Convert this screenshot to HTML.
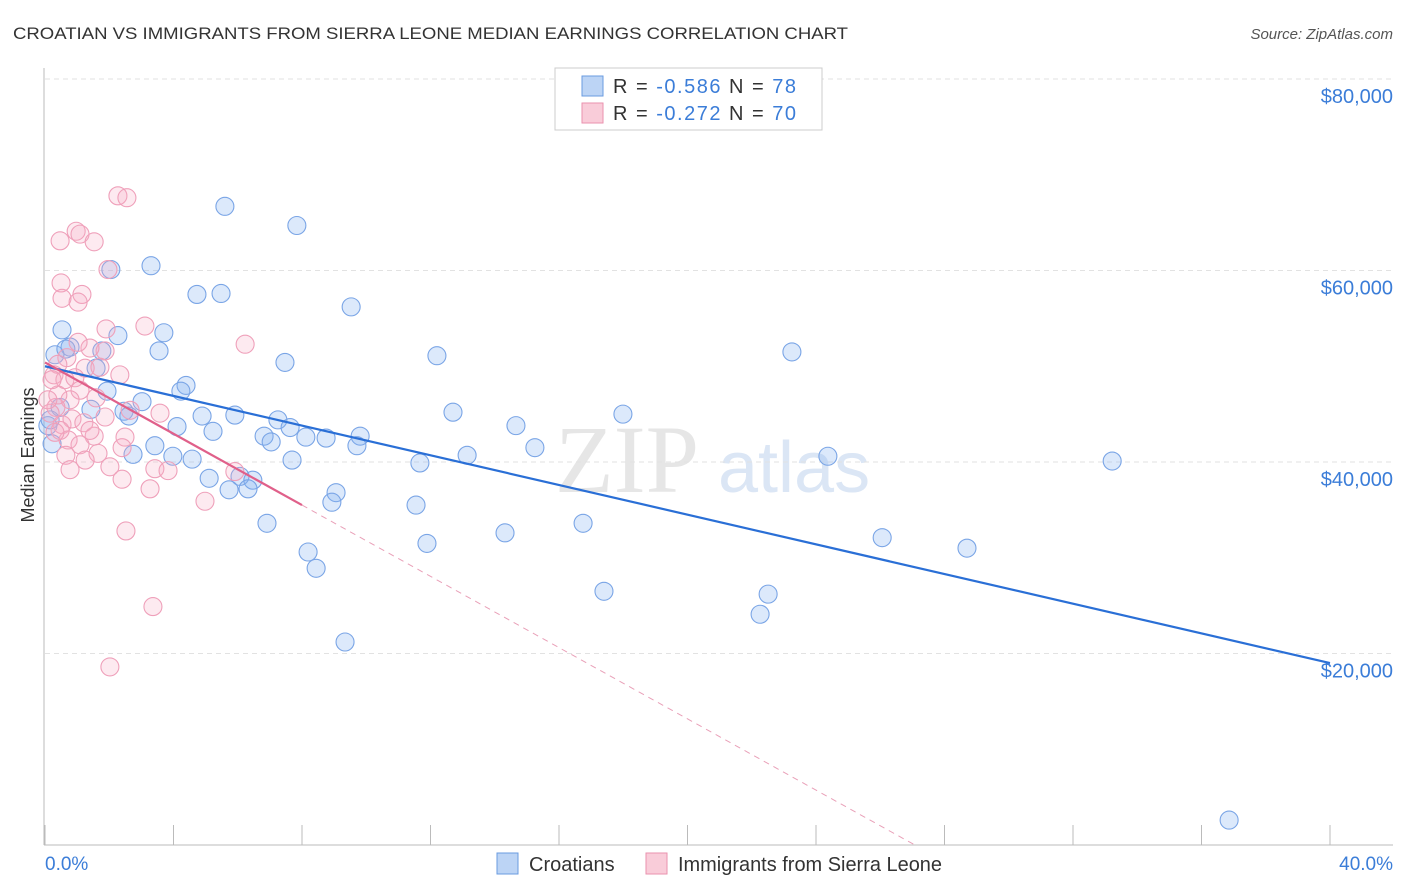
<!DOCTYPE html>
<html><head><meta charset="utf-8"><style>
body{margin:0;background:#fff;font-family:"Liberation Sans",sans-serif;}
svg{display:block}
</style></head><body>
<svg id="chart" width="1406" height="892" xmlns="http://www.w3.org/2000/svg" font-family="Liberation Sans, sans-serif">
<text x="13" y="39" font-size="17" fill="#333" textLength="835" lengthAdjust="spacingAndGlyphs">CROATIAN VS IMMIGRANTS FROM SIERRA LEONE MEDIAN EARNINGS CORRELATION CHART</text>
<text x="1393" y="39" font-size="15" fill="#555" font-style="italic" text-anchor="end">Source: ZipAtlas.com</text>
<g>
<text x="555" y="492" font-size="96" fill="#e6e6e6" font-family="Liberation Serif, serif">ZIP</text>
<text x="718" y="492" font-size="72" fill="#dbe6f5">atlas</text>
</g>
<g id="grid"></g>
<g id="ticks"></g>
<line x1="44" y1="68" x2="44" y2="845" stroke="#bbb"/>
<line x1="44" y1="845" x2="1393" y2="845" stroke="#bbb"/>
<g id="pts"></g>
<g id="lines"></g>
<text transform="translate(34,455) rotate(-90)" font-size="18" fill="#333" text-anchor="middle">Median Earnings</text>
<text x="45" y="870" font-size="19" fill="#3b7dd8">0.0%</text>
<text x="1393" y="870" font-size="19" fill="#3b7dd8" text-anchor="end">40.0%</text>
<g>
<rect x="555" y="68" width="267" height="62" fill="#fff" stroke="#ccc"/>
<rect x="582" y="76" width="21" height="20" fill="#bcd4f5" stroke="#6a9be0"/>
<rect x="582" y="103" width="21" height="20" fill="#f9ccd9" stroke="#ea92ae"/>
<text x="613" y="93" font-size="20" fill="#333" textLength="183" lengthAdjust="spacing">R = <tspan fill="#3b7dd8">-0.586</tspan>    N = <tspan fill="#3b7dd8">78</tspan></text>
<text x="613" y="120" font-size="20" fill="#333" textLength="183" lengthAdjust="spacing">R = <tspan fill="#3b7dd8">-0.272</tspan>    N = <tspan fill="#3b7dd8">70</tspan></text>
</g>
<g>
<rect x="497" y="853" width="21" height="21" fill="#bcd4f5" stroke="#6a9be0"/>
<text x="529" y="871" font-size="20" fill="#333">Croatians</text>
</g>
<g>
<rect x="646" y="853" width="21" height="21" fill="#f9ccd9" stroke="#ea92ae"/>
<text x="678" y="871" font-size="20" fill="#333" textLength="264" lengthAdjust="spacingAndGlyphs">Immigrants from Sierra Leone</text>
</g>
</svg>
<script>
const yTicks=[20000,40000,60000,80000];
const yTickLabels=["$20,000","$40,000","$60,000","$80,000"];
const xTicks=[0,4,8,12,16,20,24,28,32,36,40];
const blueX=[5.60,7.84,3.30,2.05,4.73,5.48,9.53,0.53,2.27,3.70,3.55,1.77,0.78,12.20,23.25,7.47,0.31,1.59,1.93,4.39,4.23,3.02,1.43,2.46,2.61,4.89,5.91,7.25,7.63,12.70,17.99,14.66,4.11,5.23,6.82,7.04,8.12,8.75,9.81,9.71,3.42,3.98,2.74,4.58,15.25,13.14,24.37,7.69,11.67,33.22,5.11,6.07,6.47,5.73,6.32,9.06,8.93,11.55,6.91,16.75,14.32,8.19,11.89,26.06,28.70,8.44,17.40,22.51,22.26,9.34,36.86,0.47,0.22,0.09,0.65,0.16];
const blueY=[66.7,64.7,60.5,60.1,57.5,57.6,56.2,53.8,53.2,53.5,51.6,51.6,52.0,51.1,51.5,50.4,51.2,49.8,47.4,48.0,47.4,46.3,45.5,45.3,44.8,44.8,44.9,44.4,43.6,45.2,45.0,43.8,43.7,43.2,42.7,42.1,42.6,42.5,42.7,41.7,41.7,40.6,40.8,40.3,41.5,40.7,40.6,40.2,39.9,40.1,38.3,38.5,38.1,37.1,37.2,36.8,35.8,35.5,33.6,33.6,32.6,30.6,31.5,32.1,31.0,28.9,26.5,26.2,24.1,21.2,2.6,45.7,41.9,43.8,51.8,44.4];
const pinkX=[2.27,2.55,0.47,0.97,1.09,1.53,1.96,0.50,0.53,1.15,1.03,1.90,3.11,6.23,1.87,1.40,1.03,0.68,1.25,0.40,1.71,2.33,0.28,0.62,0.93,1.09,1.59,1.87,3.58,0.78,0.34,0.16,0.53,0.84,1.21,2.49,1.53,0.72,0.47,2.65,0.31,1.09,1.65,1.25,2.02,2.40,3.42,3.83,5.91,2.40,3.27,4.98,2.52,3.36,2.02,0.40,0.22,0.09,1.40,0.65,0.78];
const pinkY=[67.8,67.6,63.1,64.1,63.8,63.0,60.1,58.7,57.1,57.5,56.7,53.9,54.2,52.3,51.6,51.9,52.5,50.9,49.8,50.2,49.9,49.1,49.1,48.6,48.8,47.5,46.7,44.7,45.1,46.5,45.7,45.1,43.9,44.5,44.1,42.6,42.7,42.3,43.3,45.4,43.1,41.8,40.9,40.2,39.5,41.5,39.3,39.1,39.0,38.2,37.2,35.9,32.8,24.9,18.6,47.0,48.6,46.5,43.3,40.7,39.2];
const blueTrend=[[0,50.0],[40,19.0]];
const pinkTrend=[[0,50.4],[8,35.5],[27.08,0]];
const NS="http://www.w3.org/2000/svg";
const xs=p=>45+p/40*1285;
const ys=k=>845-k*1000/20000*191.5;
function mk(t,a,parent){const e=document.createElementNS(NS,t);for(const k in a)e.setAttribute(k,a[k]);parent.appendChild(e);return e;}
const grid=document.getElementById('grid');
yTicks.forEach((v,i)=>{
  const l=mk('line',{x1:45,x2:1393,y1:ys(v/1000),y2:ys(v/1000),stroke:'#e2e2e2','stroke-dasharray':'5,4'},grid);
  
  
  const t=mk('text',{x:1393,y:ys(v/1000)+24,'font-size':20,fill:'#3b7dd8','text-anchor':'end'},grid);
  t.textContent=yTickLabels[i];
  
  
});
const tk=document.getElementById('ticks');
xTicks.forEach(v=>{
  const l=mk('line',{x1:xs(v),x2:xs(v),y1:825,y2:845,stroke:'#bbb'},tk);
  
  
});
const pts=document.getElementById('pts');
blueX.forEach((x,i)=>{
  const c=mk('circle',{cx:xs(x),cy:ys(blueY[i]),r:9,fill:'rgba(130,175,240,0.28)',stroke:'#7aa5e6','stroke-width':1.1},pts);
  
  
});
pinkX.forEach((x,i)=>{
  const c=mk('circle',{cx:xs(x),cy:ys(pinkY[i]),r:9,fill:'rgba(248,170,195,0.25)',stroke:'#efa0ba','stroke-width':1.1},pts);
  
  
});
const ln=document.getElementById('lines');
const b=mk('line',{x1:xs(blueTrend[0][0]),y1:ys(blueTrend[0][1]),x2:xs(blueTrend[1][0]),y2:ys(blueTrend[1][1]),stroke:'#2a6fd6','stroke-width':2.2},ln);


const p1=mk('line',{x1:xs(pinkTrend[0][0]),y1:ys(pinkTrend[0][1]),x2:xs(pinkTrend[1][0]),y2:ys(pinkTrend[1][1]),stroke:'#e0608a','stroke-width':2.2},ln);


const p2=mk('line',{x1:xs(pinkTrend[1][0]),y1:ys(pinkTrend[1][1]),x2:xs(pinkTrend[2][0]),y2:ys(pinkTrend[2][1]),stroke:'#e9a0b8','stroke-width':1,'stroke-dasharray':'6,5'},ln);


</script>
</body></html>
